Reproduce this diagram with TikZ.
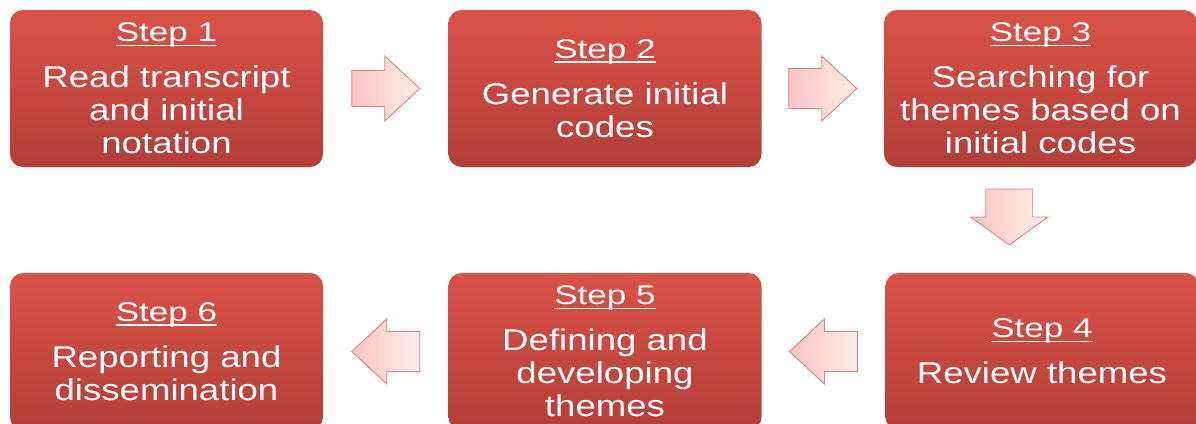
\documentclass[tikz,border=0pt]{standalone}
\usepackage{fontspec}
\setmainfont{Liberation Sans}[FakeStretch=1.22]
\newfontfamily\hdfont{Liberation Sans}[FakeStretch=1.3]
\usetikzlibrary{calc}
\definecolor{boxtop}{RGB}{218,82,72}
\definecolor{boxbot}{RGB}{178,62,56}
\definecolor{arrA}{RGB}{250,196,196}
\definecolor{arrB}{RGB}{254,236,236}
\definecolor{arrline}{RGB}{226,128,128}
\newsavebox\hdbox
\newcommand\stephead[1]{{\hdfont\fontsize{27}{33}\selectfont\sbox\hdbox{#1}\rlap{\rule[-4.5pt]{\wd\hdbox}{1.4pt}}\usebox\hdbox}}
% center, angle, half length, head length, shaft half width, head half width
\newcommand\blockarrow[6]{%
  \path[arrowshape, shift={(#1)}, rotate=#2]
    (-#3,-#5) -- ({#3-#4},-#5) -- ({#3-#4},-#6) -- (#3,0) -- ({#3-#4},#6) -- ({#3-#4},#5) -- (-#3,#5) -- cycle;}
\tikzset{
  stepbox/.style={rectangle, rounded corners=13pt, minimum width=313pt, minimum height=157pt,
    inner sep=0pt, top color=boxtop, bottom color=boxbot, text=white, align=center,
    font=\fontsize{30}{33}\selectfont},
  arrowshape/.style={left color=arrA, right color=arrB, draw=arrline, line width=0.9pt, line join=miter}
}
\begin{document}
\begin{tikzpicture}[x=1pt,y=-1pt]
\useasboundingbox (0,0) rectangle (1196,423);
\fill[white] (0,0) rectangle (1196,423);
\node[stepbox] (s1) at (166.5,88.5) {\stephead{Step 1}\\[13pt]Read transcript\\and initial\\notation};
\node[stepbox] (s2) at (605,88.5) {\stephead{Step 2}\\[13pt]Generate initial\\codes};
\node[stepbox] (s3) at (1040.5,88.5) {\stephead{Step 3}\\[13pt]Searching for\\themes based on\\initial codes};
\node[stepbox] (s4) at (1042,351.5) {\stephead{Step 4}\\[13pt]Review themes};
\node[stepbox] (s5) at (605,351.5) {\stephead{Step 5}\\[13pt]Defining and\\developing\\themes};
\node[stepbox] (s6) at (166.5,351.5) {\stephead{Step 6}\\[13pt]Reporting and\\dissemination};
\coordinate (a12) at ($(s1.east)!0.5!(s2.west)$);
\coordinate (a23) at ($(s2.east)!0.5!(s3.west)$);
\coordinate (a34) at ([xshift=-32pt,yshift=3pt]$(s3.south)!0.5!(s4.north)$);
\coordinate (a45) at ($(s4.west)!0.5!(s5.east)$);
\coordinate (a56) at ($(s5.west)!0.5!(s6.east)$);
\blockarrow{a12}{0}{34}{35}{18}{32.5}
\blockarrow{a23}{0}{34}{35}{20}{32.5}
\blockarrow{a34}{-90}{28}{28}{23.5}{38.5}
\blockarrow{a45}{180}{34}{35}{20}{32.5}
\blockarrow{a56}{180}{34}{35}{20}{32.5}
\end{tikzpicture}
\end{document}
